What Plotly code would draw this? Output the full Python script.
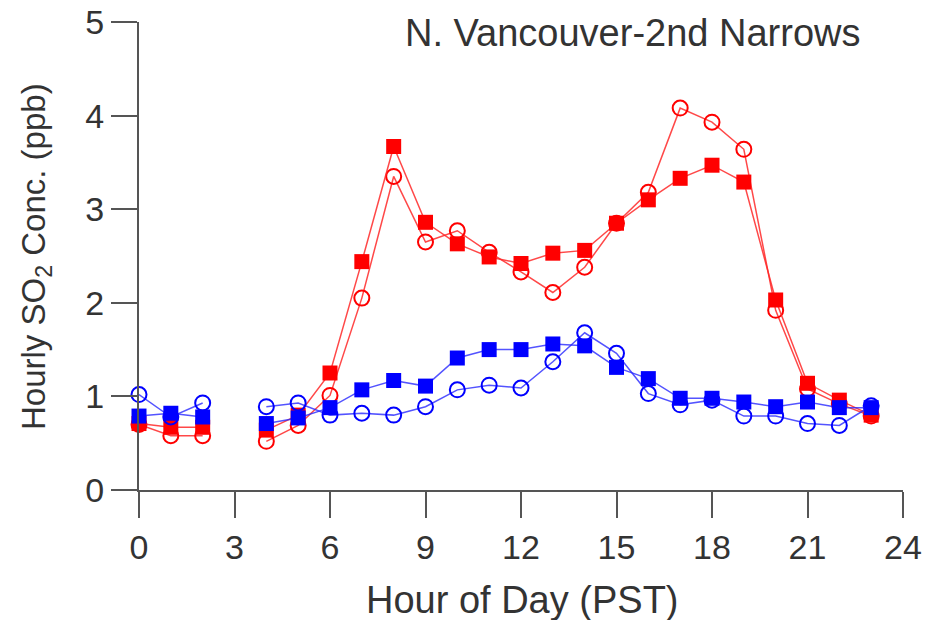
import plotly.graph_objects as go

hours = list(range(24))

red_filled = [0.71, 0.67, 0.67, None, 0.64, 0.80, 1.25, 2.44, 3.67, 2.86, 2.63, 2.49,
              2.42, 2.53, 2.56, 2.85, 3.10, 3.33, 3.47, 3.29, 2.03, 1.14, 0.96, 0.80]
red_open = [0.70, 0.58, 0.58, None, 0.52, 0.69, 1.01, 2.05, 3.35, 2.65, 2.77, 2.54,
            2.33, 2.11, 2.38, 2.85, 3.18, 4.08, 3.93, 3.64, 1.92, 1.08, 0.92, 0.79]
blue_filled = [0.79, 0.82, 0.78, None, 0.71, 0.77, 0.88, 1.07, 1.17, 1.11, 1.41, 1.50,
               1.50, 1.56, 1.54, 1.31, 1.19, 0.98, 0.98, 0.94, 0.89, 0.94, 0.88, 0.88]
blue_open = [1.02, 0.78, 0.93, None, 0.89, 0.93, 0.80, 0.82, 0.80, 0.89, 1.07, 1.12,
             1.09, 1.37, 1.68, 1.46, 1.03, 0.91, 0.96, 0.79, 0.79, 0.71, 0.69, 0.90]

x_ticks = [0, 3, 6, 9, 12, 15, 18, 21, 24]
y_ticks = [0, 1, 2, 3, 4, 5]

FONT = "Liberation Sans, Arial, Helvetica, sans-serif"
TXT = "#333333"

W, H = 925, 620
L, R, T, B = 139, 22, 22, 130
PW, PH = W - L - R, H - T - B

fig = go.Figure()

def add(y, color, linecolor, symbol):
    open_ = symbol.endswith("open")
    fig.add_trace(go.Scatter(
        x=hours, y=y, mode="lines+markers",
        line=dict(color=linecolor, width=1.5),
        marker=dict(symbol=symbol, size=15,
                    color=color, line=dict(color=color, width=2 if open_ else 0)),
        cliponaxis=False, connectgaps=False, showlegend=False,
    ))

add(red_open, "#ff0000", "rgba(255,40,40,0.85)", "circle-open")
add(red_filled, "#ff0000", "rgba(255,40,40,0.85)", "square")
add(blue_open, "#0000ff", "rgba(40,40,255,0.8)", "circle-open")
add(blue_filled, "#0000ff", "rgba(40,40,255,0.8)", "square")

axis_common = dict(
    showline=True, linecolor="#555555", linewidth=2,
    ticks="outside", ticklen=26, tickwidth=2, tickcolor="#555555",
    showgrid=False, zeroline=False, automargin=False,
    ticklabeloverflow="allow",
    tickfont=dict(family=FONT, size=34, color=TXT),
)

def px_to_paper(xp, yp):
    return (xp - L) / PW, (H - B - yp) / PH

tx, ty = px_to_paper(862, 33)
xx, xy = px_to_paper(522, 600)
yx, yy = px_to_paper(36, 257)

fig.update_layout(
    width=W, height=H,
    margin=dict(l=L, r=R, t=T, b=B, autoexpand=False),
    paper_bgcolor="white", plot_bgcolor="white",
    showlegend=False,
    xaxis=dict(range=[0, 24], tickvals=x_ticks, ticktext=[str(v) for v in x_ticks],
               **axis_common),
    yaxis=dict(range=[0, 5], tickvals=y_ticks, ticktext=[str(v) for v in y_ticks],
               **axis_common),
    annotations=[
        dict(text="N. Vancouver-2nd Narrows", x=tx, y=ty, xref="paper", yref="paper",
             showarrow=False, xanchor="right", yanchor="middle",
             font=dict(family=FONT, size=38, color=TXT)),
        dict(text="Hour of Day (PST)", x=xx, y=xy, xref="paper", yref="paper",
             showarrow=False, xanchor="center", yanchor="middle",
             font=dict(family=FONT, size=38, color=TXT)),
        dict(text="Hourly SO<sub>2</sub> Conc. (ppb)", x=yx, y=yy, xref="paper", yref="paper",
             showarrow=False, xanchor="center", yanchor="middle", textangle=-90,
             font=dict(family=FONT, size=33, color=TXT)),
    ],
)

fig.write_html("out.html", config={"displayModeBar": False},
               post_script="document.body.style.margin='0';document.body.style.overflow='hidden';")
